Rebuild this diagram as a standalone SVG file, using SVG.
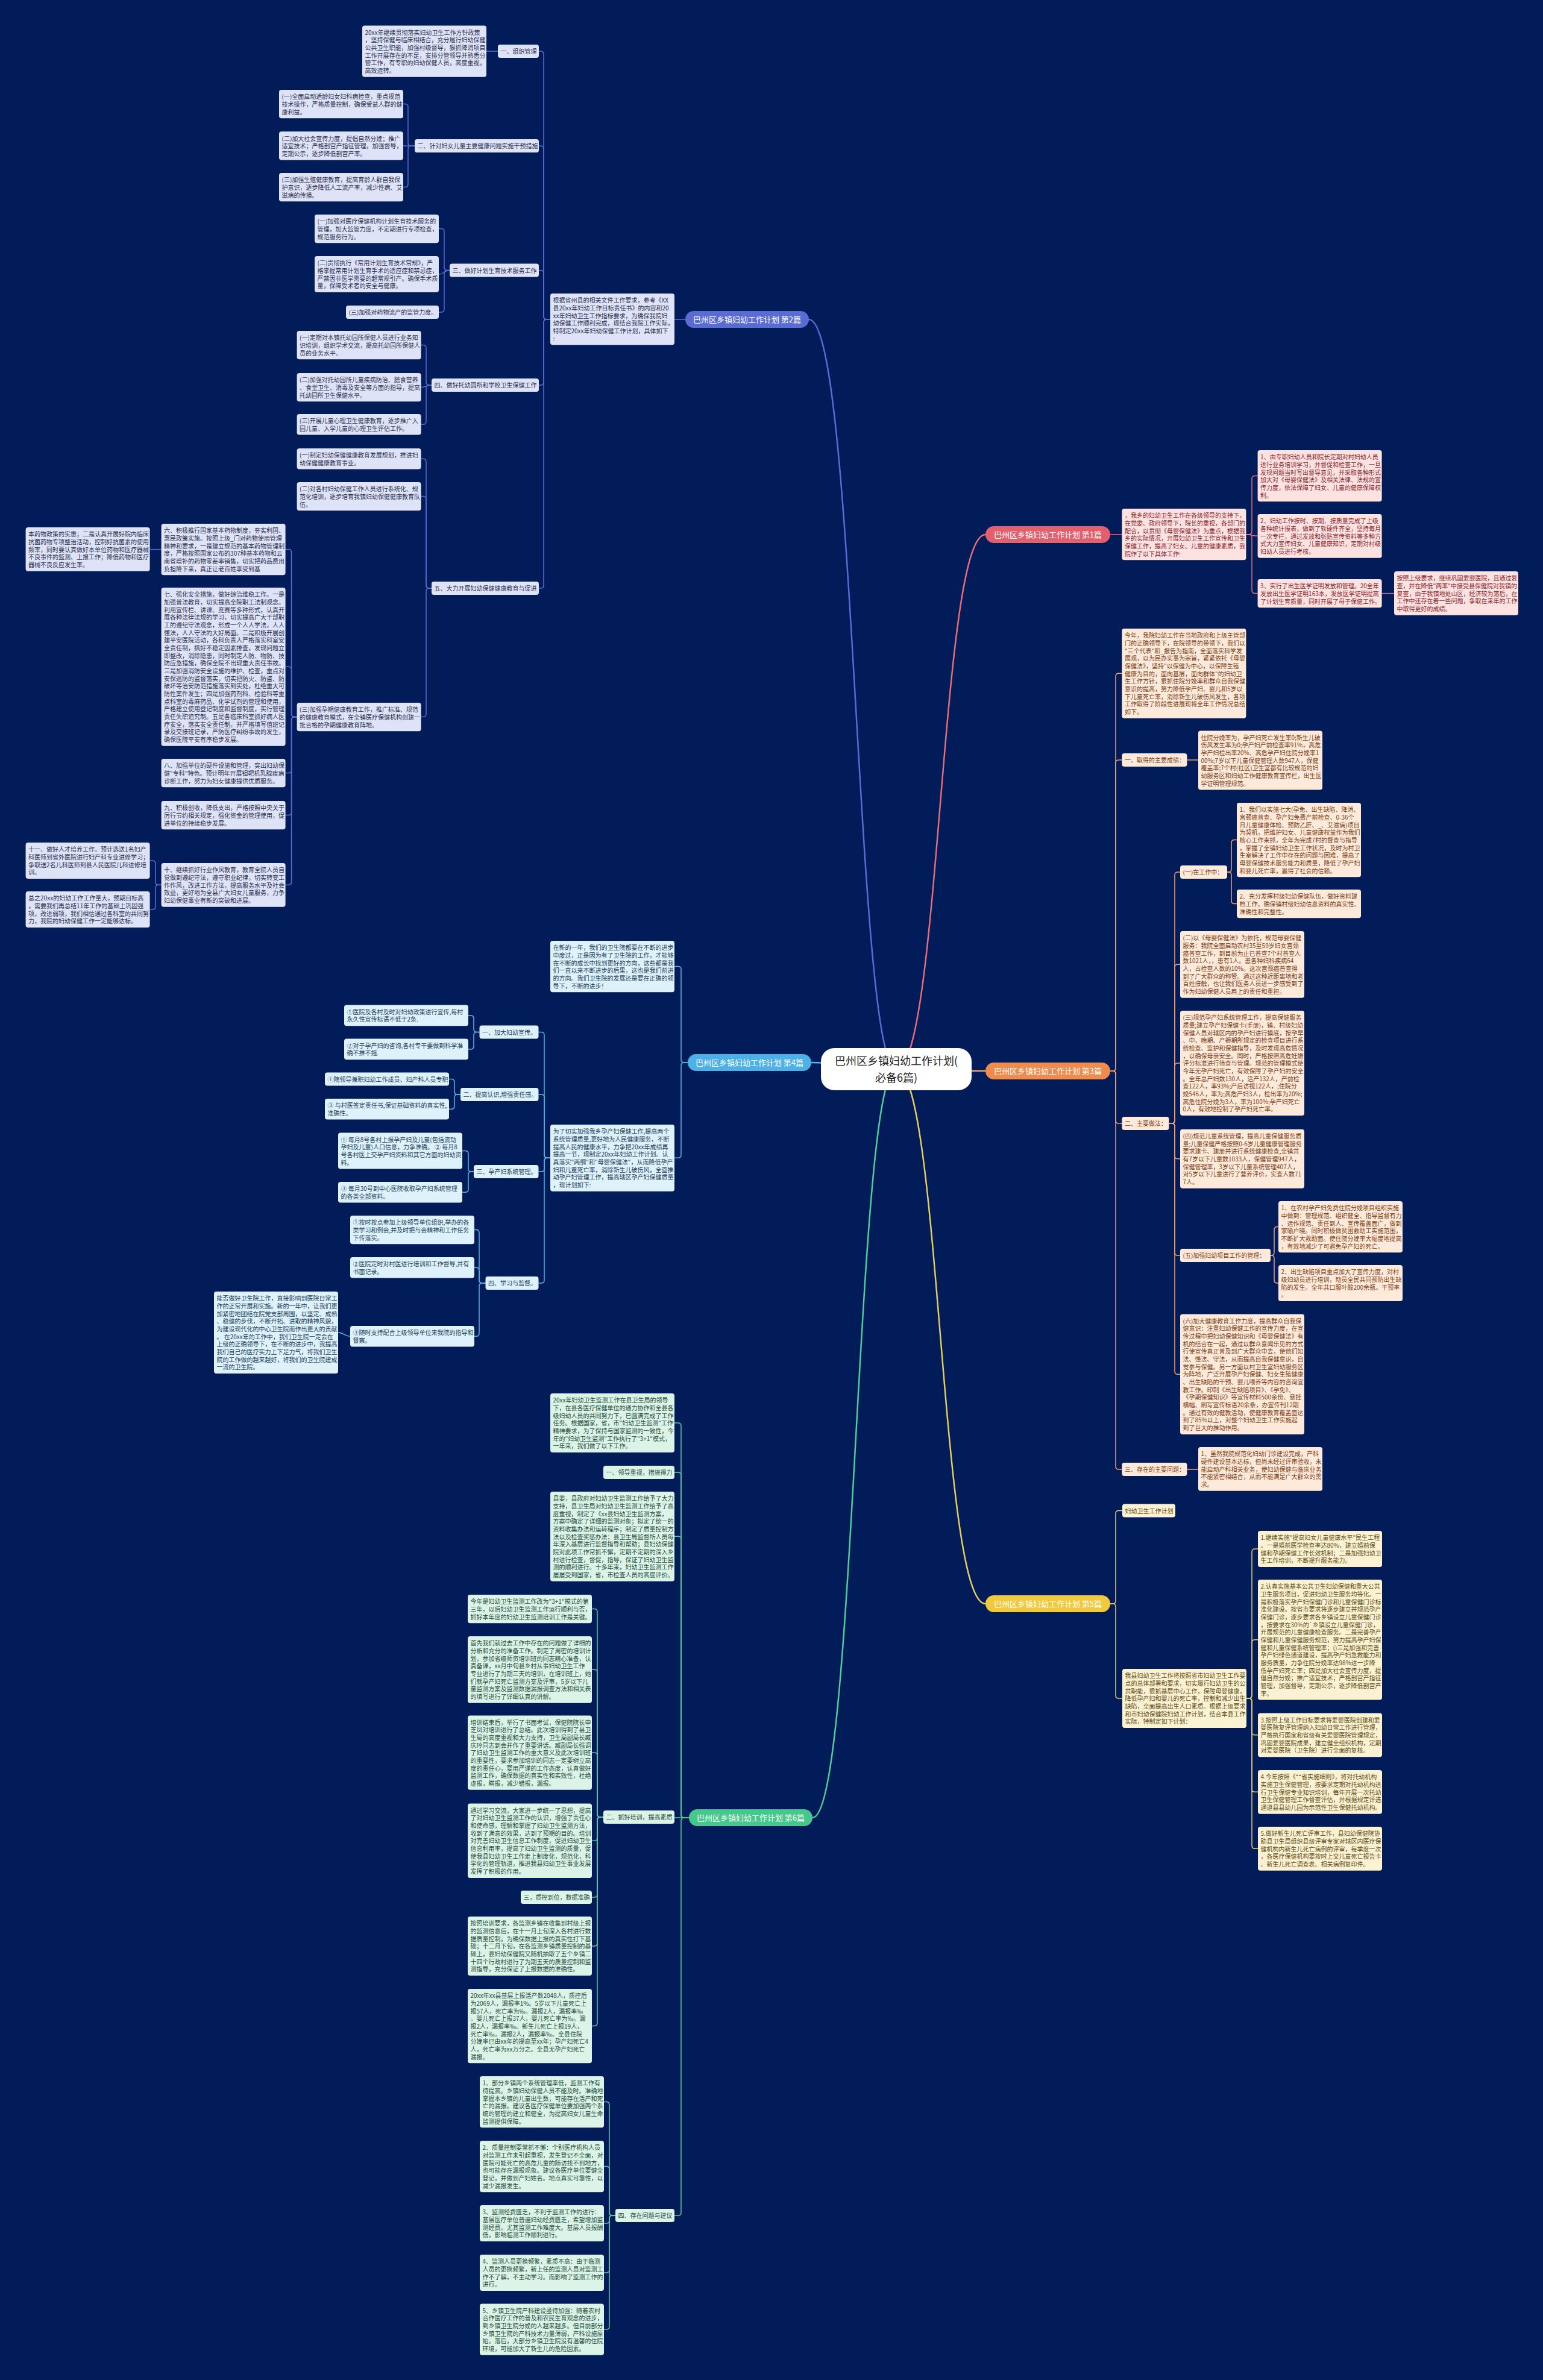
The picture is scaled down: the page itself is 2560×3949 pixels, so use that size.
<svg xmlns="http://www.w3.org/2000/svg" width="2560" height="3949" viewBox="0 0 2560 3949">
<style>
text{font-family:"Noto Sans CJK SC","Noto Sans",sans-serif;font-size:10px}
.c2 rect{fill:#dfe3f7}.c2 text{fill:#2b3150}
.c4 rect{fill:#def2fb}.c4 text{fill:#1c3d5a}
.c6 rect{fill:#dcf3e8}.c6 text{fill:#1f4d3c}
.c1 rect{fill:#fde2e2}.c1 text{fill:#8a1f2a}
.c3 rect{fill:#fdeadb}.c3 text{fill:#7c3d12}
.c5 rect{fill:#fbf2d3}.c5 text{fill:#5e4c12}
.pill text{font-size:13px;fill:#fff;text-anchor:middle}
#connectors path{fill:none;stroke-width:1.5}
#connectors .m{stroke-width:2.5}
.k2{stroke:#5b6bd4}.k4{stroke:#56b6ea}.k6{stroke:#4ccf9a}.k1{stroke:#e56e7c}.k3{stroke:#f0a172}.k5{stroke:#e6cd62}
</style>
<rect width="2560" height="3949" fill="#021c59"/>
<g id="connectors">
<g class="k2">
<path class="m" d="M1342 530C1420 530 1420 1774 1487 1774"/>
<path d="M1137 530H1119"/>
<path d="M913 530H907Q902 530 902 525V90Q902 85 897 85H894"/>
<path d="M913 530H907Q902 530 902 525V247Q902 242 897 242H894"/>
<path d="M913 530H907Q902 530 902 525V453.5Q902 448.5 897 448.5H894"/>
<path d="M913 530H907Q902 530 902 535V634Q902 639 897 639H894"/>
<path d="M913 530H907Q902 530 902 535V971Q902 976 897 976H894"/>
<path d="M826 85H807"/>
<path d="M688 242H682Q677 242 677 237V177.6Q677 172.6 672 172.6H669"/>
<path d="M688 242H669"/>
<path d="M688 242H682Q677 242 677 247V305.6Q677 310.6 672 310.6H669"/>
<path d="M746 448.5H742Q737 448.5 737 443.5V384.6Q737 379.6 732 379.6H728"/>
<path d="M746 448.5C737 448.5 737 455 728 455"/>
<path d="M746 448.5H742Q737 448.5 737 453.5V513Q737 518 732 518H728"/>
<path d="M716 639H712Q707 639 707 634V577.6Q707 572.6 702 572.6H698.6"/>
<path d="M716 639C707 639 707 642.6 698.6 642.6"/>
<path d="M716 639H712Q707 639 707 644V699.3Q707 704.3 702 704.3H698.6"/>
<path d="M716 976H712Q707 976 707 971V766.3Q707 761.3 702 761.3H698.6"/>
<path d="M716 976H712Q707 976 707 971V828.6Q707 823.6 702 823.6H698.6"/>
<path d="M716 976H712Q707 976 707 981V1184.6Q707 1189.6 702 1189.6H698.6"/>
<path d="M492.6 1189.6H488.6Q483.6 1189.6 483.6 1184.6V916.6Q483.6 911.6 478.6 911.6H473.6"/>
<path d="M492.6 1189.6H488.6Q483.6 1189.6 483.6 1184.6V1111.3Q483.6 1106.3 478.6 1106.3H473.6"/>
<path d="M492.6 1189.6H488.6Q483.6 1189.6 483.6 1194.6V1277.6Q483.6 1282.6 478.6 1282.6H473.6"/>
<path d="M492.6 1189.6H488.6Q483.6 1189.6 483.6 1194.6V1347.6Q483.6 1352.6 478.6 1352.6H473.6"/>
<path d="M492.6 1189.6H488.6Q483.6 1189.6 483.6 1194.6V1463.3Q483.6 1468.3 478.6 1468.3H473.6"/>
<path d="M267.6 911.6H248.6"/>
<path d="M267.6 1468.3H263Q258 1468.3 258 1463.3V1433Q258 1428 253 1428H248.6"/>
<path d="M267.6 1468.3H263Q258 1468.3 258 1473.3V1504Q258 1509 253 1509H248.6"/>
</g>
<g class="k4">
<path class="m" d="M1346 1763C1420 1763 1420 1774 1487 1774"/>
<path d="M1141 1763H1135Q1130 1763 1130 1758V1608.6Q1130 1603.6 1125 1603.6H1119"/>
<path d="M1141 1763H1135Q1130 1763 1130 1768V1916.3Q1130 1921.3 1125 1921.3H1119"/>
<path d="M913 1921.3H908Q903 1921.3 903 1916.3V1717.6Q903 1712.6 898 1712.6H893.5"/>
<path d="M913 1921.3H908Q903 1921.3 903 1916.3V1821Q903 1816 898 1816H893.5"/>
<path d="M913 1921.3H908Q903 1921.3 903 1926.3V1939Q903 1944 898 1944H893.5"/>
<path d="M913 1921.3H908Q903 1921.3 903 1926.3V2124Q903 2129 898 2129H893.5"/>
<path d="M795.5 1712.6H791Q786 1712.6 786 1707.6V1689.9Q786 1684.9 781 1684.9H777"/>
<path d="M795.5 1712.6H791Q786 1712.6 786 1717.6V1735.9Q786 1740.9 781 1740.9H777"/>
<path d="M764 1816H759Q754 1816 754 1811V1795.6Q754 1790.6 749 1790.6H745"/>
<path d="M764 1816H759Q754 1816 754 1821V1835.3Q754 1840.3 749 1840.3H745"/>
<path d="M786 1944H782Q777 1944 777 1939V1914.6Q777 1909.6 772 1909.6H767"/>
<path d="M786 1944H782Q777 1944 777 1949V1973.3Q777 1978.3 772 1978.3H767"/>
<path d="M805.5 2129H800Q795 2129 795 2124V2045.6Q795 2040.6 790 2040.6H787"/>
<path d="M805.5 2129H800Q795 2129 795 2124V2108.3Q795 2103.3 790 2103.3H787"/>
<path d="M805.5 2129H800Q795 2129 795 2134V2212.3Q795 2217.3 790 2217.3H787"/>
<path d="M581 2217.3C571 2217.3 571 2211 561 2211"/>
</g>
<g class="k6">
<path class="m" d="M1348 3016C1420 3016 1420 1774 1487 1774"/>
<path d="M1143 3016H1135Q1130 3016 1130 3011V2366Q1130 2361 1125 2361H1119"/>
<path d="M1143 3016H1135Q1130 3016 1130 3011V2448Q1130 2443 1125 2443H1119"/>
<path d="M1143 3016H1135Q1130 3016 1130 3011V2554.3Q1130 2549.3 1125 2549.3H1119"/>
<path d="M1143 3016H1119"/>
<path d="M1143 3016H1135Q1130 3016 1130 3021V3671Q1130 3676 1125 3676H1119"/>
<path d="M1001 3015H996Q991 3015 991 3010V2674.6Q991 2669.6 986 2669.6H982"/>
<path d="M1001 3015H996Q991 3015 991 3010V2775.3Q991 2770.3 986 2770.3H982"/>
<path d="M1001 3015H996Q991 3015 991 3010V2913.1Q991 2908.1 986 2908.1H982"/>
<path d="M1001 3015H996Q991 3015 991 3020V3049.2Q991 3054.2 986 3054.2H982"/>
<path d="M1001 3015H996Q991 3015 991 3020V3143Q991 3148 986 3148H982"/>
<path d="M1001 3015H996Q991 3015 991 3020V3224Q991 3229 986 3229H982"/>
<path d="M1001 3015H996Q991 3015 991 3020V3356.6Q991 3361.6 986 3361.6H982"/>
<path d="M1021 3676H1016Q1011 3676 1011 3671V3492.6Q1011 3487.6 1006 3487.6H1002"/>
<path d="M1021 3676H1016Q1011 3676 1011 3671V3599.6Q1011 3594.6 1006 3594.6H1002"/>
<path d="M1021 3676H1016Q1011 3676 1011 3681V3684Q1011 3689 1006 3689H1002"/>
<path d="M1021 3676H1016Q1011 3676 1011 3681V3766Q1011 3771 1006 3771H1002"/>
<path d="M1021 3676H1016Q1011 3676 1011 3681V3860.1Q1011 3865.1 1006 3865.1H1002"/>
</g>
<g class="k1">
<path class="m" d="M1487 1774C1560 1774 1560 887 1635 887"/>
<path d="M1840 887H1861.4"/>
<path d="M2067.4 886.7H2072Q2077 886.7 2077 881.7V794.6Q2077 789.6 2082 789.6H2086.6"/>
<path d="M2067.4 886.7C2077 886.7 2077 889.3 2086.6 889.3"/>
<path d="M2067.4 886.7H2072Q2077 886.7 2077 891.7V979.6Q2077 984.6 2082 984.6H2086.6"/>
<path d="M2292.6 984.6H2313"/>
</g>
<g class="k3">
<path class="m" d="M1487 1774C1560 1774 1560 1777 1635 1777"/>
<path d="M1840 1777H1846Q1851 1777 1851 1772V1122.3Q1851 1117.3 1856 1117.3H1861.4"/>
<path d="M1840 1777H1846Q1851 1777 1851 1772V1266Q1851 1261 1856 1261H1861.4"/>
<path d="M1840 1777H1846Q1851 1777 1851 1782V1859Q1851 1864 1856 1864H1861.4"/>
<path d="M1840 1777H1846Q1851 1777 1851 1782V2433Q1851 2438 1856 2438H1861.4"/>
<path d="M1969.4 1261H1988"/>
<path d="M1939.4 1864H1944Q1949 1864 1949 1859V1452Q1949 1447 1954 1447H1958"/>
<path d="M1939.4 1864H1944Q1949 1864 1949 1859V1605.3Q1949 1600.3 1954 1600.3H1958"/>
<path d="M1939.4 1864H1944Q1949 1864 1949 1859V1769Q1949 1764 1954 1764H1958"/>
<path d="M1939.4 1864H1944Q1949 1864 1949 1869V1917.7Q1949 1922.7 1954 1922.7H1958"/>
<path d="M1939.4 1864H1944Q1949 1864 1949 1869V2078Q1949 2083 1954 2083H1958"/>
<path d="M1939.4 1864H1944Q1949 1864 1949 1869V2275.2Q1949 2280.2 1954 2280.2H1958"/>
<path d="M2036 1447H2038Q2043 1447 2043 1442V1398.6Q2043 1393.6 2048 1393.6H2052"/>
<path d="M2036 1447H2038Q2043 1447 2043 1452V1494.6Q2043 1499.6 2048 1499.6H2052"/>
<path d="M2108 2083H2109Q2114 2083 2114 2078V2040.6Q2114 2035.6 2119 2035.6H2121"/>
<path d="M2108 2083H2109Q2114 2083 2114 2088V2124Q2114 2129 2119 2129H2121"/>
<path d="M1969.4 2438H1988"/>
</g>
<g class="k5">
<path class="m" d="M1487 1774C1560 1774 1560 2661 1635 2661"/>
<path d="M1840 2661H1846Q1851 2661 1851 2656V2511.5Q1851 2506.5 1856 2506.5H1862"/>
<path d="M1840 2661H1846Q1851 2661 1851 2666V2813Q1851 2818 1856 2818H1862"/>
<path d="M2068 2818H2072Q2077 2818 2077 2813V2575Q2077 2570 2082 2570H2087"/>
<path d="M2068 2818H2072Q2077 2818 2077 2813V2725.7Q2077 2720.7 2082 2720.7H2087"/>
<path d="M2068 2818H2072Q2077 2818 2077 2823V2873.8Q2077 2878.8 2082 2878.8H2087"/>
<path d="M2068 2818H2072Q2077 2818 2077 2823V2968.3Q2077 2973.3 2082 2973.3H2087"/>
<path d="M2068 2818H2072Q2077 2818 2077 2823V3062.3Q2077 3067.3 2082 3067.3H2087"/>
</g>
</g>

<g id="root"><rect x="1362" y="1739" width="250" height="70" rx="22" fill="#ffffff"/><text x="1487" y="1767" text-anchor="middle" fill="#222" style="font-size:18px">巴州区乡镇妇幼工作计划(<tspan x="1487" dy="28">必备6篇)</tspan></text></g>

<g id="p2" class="pill"><rect x="1137" y="516" width="205" height="28" rx="14" fill="#5b6bd4"/><text x="1239.5" y="535">巴州区乡镇妇幼工作计划 第2篇</text></g>
<g id="p1" class="pill"><rect x="1635" y="873" width="207" height="28" rx="14" fill="#e35f6d"/><text x="1738.5" y="892">巴州区乡镇妇幼工作计划 第1篇</text></g>
<g id="p4" class="pill"><rect x="1141" y="1749" width="205" height="28" rx="14" fill="#4cb1e6"/><text x="1243.5" y="1768">巴州区乡镇妇幼工作计划 第4篇</text></g>
<g id="p3" class="pill"><rect x="1635" y="1763" width="207" height="28" rx="14" fill="#ef8b4c"/><text x="1738.5" y="1782">巴州区乡镇妇幼工作计划 第3篇</text></g>
<g id="p5" class="pill"><rect x="1635" y="2647" width="207" height="28" rx="14" fill="#f1c93c"/><text x="1738.5" y="2666">巴州区乡镇妇幼工作计划 第5篇</text></g>
<g id="p6" class="pill"><rect x="1143" y="3002" width="205" height="28" rx="14" fill="#45c88c"/><text x="1245.5" y="3021">巴州区乡镇妇幼工作计划 第6篇</text></g>

<g class="c2">
<g id="n2d"><rect x="913" y="487" width="206" height="85.3" rx="4"/><text x="917.5" y="502.2">根据省州县的相关文件工作要求，参考《XX<tspan x="917.5" dy="12.67">县20xx年妇幼工作目标责任书》的内容和20</tspan><tspan x="917.5" dy="12.67">xx年妇幼卫生工作指标要求，为确保我院妇</tspan><tspan x="917.5" dy="12.67">幼保健工作顺利完成，现结合我院工作实际，</tspan><tspan x="917.5" dy="12.67">特制定20xx年妇幼保健工作计划，具体如下</tspan><tspan x="917.5" dy="12.67">:</tspan></text></g>
<g id="n2-1"><rect x="826" y="74" width="68" height="22" rx="4"/><text x="830.5" y="89.2">一、组织管理</text></g>
<g id="n2-1a"><rect x="601" y="42.4" width="206" height="85.3" rx="4"/><text x="605.5" y="57.6">20xx年继续贯彻落实妇幼卫生工作方针政策<tspan x="605.5" dy="12.67">，坚持保健与临床相结合，充分履行妇幼保健</tspan><tspan x="605.5" dy="12.67">公共卫生职能，加强村级督导，狠抓降消项目</tspan><tspan x="605.5" dy="12.67">工作开展存在的不足，安排分管领导并熟悉分</tspan><tspan x="605.5" dy="12.67">管工作，有专职的妇幼保健人员，高度重视，</tspan><tspan x="605.5" dy="12.67">高效运转。</tspan></text></g>
<g id="n2-2"><rect x="688" y="231" width="206" height="22" rx="4"/><text x="692.5" y="246.2">二、针对妇女儿童主要健康问题实施干预措施</text></g>
<g id="n2-2a"><rect x="463" y="149" width="206" height="47.3" rx="4"/><text x="467.5" y="164.2">(一)全面启动适龄妇女妇科病检查，重点规范<tspan x="467.5" dy="12.67">技术操作，严格质量控制，确保受益人群的健</tspan><tspan x="467.5" dy="12.67">康利益。</tspan></text></g>
<g id="n2-2b"><rect x="463" y="218.3" width="206" height="47.3" rx="4"/><text x="467.5" y="233.5">(二)加大社会宣传力度，提倡自然分娩；推广<tspan x="467.5" dy="12.67">适宜技术；严格剖宫产指征管理，加强督导，</tspan><tspan x="467.5" dy="12.67">定期公示，逐步降低剖宫产率。</tspan></text></g>
<g id="n2-2c"><rect x="463" y="287" width="206" height="47.3" rx="4"/><text x="467.5" y="302.2">(三)加强生殖健康教育，提高育龄人群自我保<tspan x="467.5" dy="12.67">护意识，逐步降低人工流产率，减少性病、艾</tspan><tspan x="467.5" dy="12.67">滋病的传播。</tspan></text></g>
<g id="n2-3"><rect x="746" y="437.5" width="148" height="22" rx="4"/><text x="750.5" y="452.7">三、做好计划生育技术服务工作</text></g>
<g id="n2-3a"><rect x="522" y="356" width="206" height="47.3" rx="4"/><text x="526.5" y="371.2">(一)加强对医疗保健机构计划生育技术服务的<tspan x="526.5" dy="12.67">管理，加大监管力度，不定期进行专项检查，</tspan><tspan x="526.5" dy="12.67">规范服务行为。</tspan></text></g>
<g id="n2-3b"><rect x="522" y="425" width="206" height="60" rx="4"/><text x="526.5" y="440.2">(二)贯彻执行《常用计划生育技术常规》，严<tspan x="526.5" dy="12.67">格掌握常用计划生育手术的适应症和禁忌症，</tspan><tspan x="526.5" dy="12.67">严禁因非医学需要的超常规引产。确保手术质</tspan><tspan x="526.5" dy="12.67">量，保障受术者的安全与健康。</tspan></text></g>
<g id="n2-3c"><rect x="574" y="507" width="154" height="22" rx="4"/><text x="578.5" y="522.2">(三)加强对药物流产的监管力度。</text></g>
<g id="n2-4"><rect x="716" y="628" width="178" height="22" rx="4"/><text x="720.5" y="643.2">四、做好托幼园所和学校卫生保健工作</text></g>
<g id="n2-4a"><rect x="492.6" y="549" width="206" height="47.3" rx="4"/><text x="497.1" y="564.2">(一)定期对本镇托幼园所保健人员进行业务知<tspan x="497.1" dy="12.67">识培训，组织学术交流，提高托幼园所保健人</tspan><tspan x="497.1" dy="12.67">员的业务水平。</tspan></text></g>
<g id="n2-4b"><rect x="492.6" y="619" width="206" height="47.3" rx="4"/><text x="497.1" y="634.2">(二)加强对托幼园所儿童疾病防治、膳食营养<tspan x="497.1" dy="12.67">、食堂卫生、消毒及安全等方面的指导，提高</tspan><tspan x="497.1" dy="12.67">托幼园所卫生保健水平。</tspan></text></g>
<g id="n2-4c"><rect x="492.6" y="687" width="206" height="34.6" rx="4"/><text x="497.1" y="702.2">(三)开展儿童心理卫生健康教育，逐步推广入<tspan x="497.1" dy="12.67">园儿童、入学儿童的心理卫生评估工作。</tspan></text></g>
<g id="n2-5"><rect x="716" y="965" width="178" height="22" rx="4"/><text x="720.5" y="980.2">五、大力开展妇幼保健健康教育与促进</text></g>
<g id="n2-5a"><rect x="492.6" y="744" width="206" height="34.6" rx="4"/><text x="497.1" y="759.2">(一)制定妇幼保健健康教育发展规划，推进妇<tspan x="497.1" dy="12.67">幼保健健康教育事业。</tspan></text></g>
<g id="n2-5b"><rect x="492.6" y="800" width="206" height="47.3" rx="4"/><text x="497.1" y="815.2">(二)对各村妇幼保健工作人员进行系统化、规<tspan x="497.1" dy="12.67">范化培训，逐步培育我镇妇幼保健健康教育队</tspan><tspan x="497.1" dy="12.67">伍。</tspan></text></g>
<g id="n2-5c"><rect x="492.6" y="1166" width="206" height="47.3" rx="4"/><text x="497.1" y="1181.2">(三)加强孕期健康教育工作，推广标准、规范<tspan x="497.1" dy="12.67">的健康教育模式，在全镇医疗保健机构创建一</tspan><tspan x="497.1" dy="12.67">批合格的孕期健康教育阵地。</tspan></text></g>
<g id="n2-6"><rect x="267.6" y="869" width="206" height="85.3" rx="4"/><text x="272.1" y="884.2">六、积极推行国家基本药物制度，夯实利国、<tspan x="272.1" dy="12.67">惠民政策实施。按照上级_门对药物使用管理</tspan><tspan x="272.1" dy="12.67">精神和要求，一是建立规范的基本药物管理制</tspan><tspan x="272.1" dy="12.67">度，严格按照国家公布的307种基本药物和云</tspan><tspan x="272.1" dy="12.67">南省增补的药物零差率销售，切实把药品费用</tspan><tspan x="272.1" dy="12.67">负担降下来，真正让老百姓享受到基</tspan></text></g>
<g id="n2-6a"><rect x="42.6" y="875" width="206" height="72.7" rx="4"/><text x="47.1" y="890.2">本药物政策的实惠；二是认真开展好院内临床<tspan x="47.1" dy="12.67">抗菌药物专项整治活动，控制好抗菌素的使用</tspan><tspan x="47.1" dy="12.67">频率，同时要认真做好本单位药物和医疗器械</tspan><tspan x="47.1" dy="12.67">不良事件的监测、上报工作；降低药物和医疗</tspan><tspan x="47.1" dy="12.67">器械不良反应发生率。</tspan></text></g>
<g id="n2-7"><rect x="267.6" y="975" width="206" height="262.7" rx="4"/><text x="272.1" y="990.2">七、强化安全措施，做好综治维稳工作。一是<tspan x="272.1" dy="12.67">加强普法教育，切实提高全院职工法制观念。</tspan><tspan x="272.1" dy="12.67">利用宣传栏、讲课、竞赛等多种形式，认真开</tspan><tspan x="272.1" dy="12.67">展各种法律法规的学习，切实提高广大干部职</tspan><tspan x="272.1" dy="12.67">工的遵纪守法观念，形成一个人人学法，人人</tspan><tspan x="272.1" dy="12.67">懂法，人人守法的大好局面。二是积极开展创</tspan><tspan x="272.1" dy="12.67">建平安医院活动，各科负责人严格落实科室安</tspan><tspan x="272.1" dy="12.67">全责任制，搞好不稳定因素排查，发现问题立</tspan><tspan x="272.1" dy="12.67">即整改，消除隐患，同时制定人防、物防、技</tspan><tspan x="272.1" dy="12.67">防应急措施，确保全院不出现重大责任事故。</tspan><tspan x="272.1" dy="12.67">三是加强消防安全设施的维护、检查，重点对</tspan><tspan x="272.1" dy="12.67">安保巡防的监督落实，切实把防火、防盗、防</tspan><tspan x="272.1" dy="12.67">破坏等治安防范措施落实到实处，杜绝重大可</tspan><tspan x="272.1" dy="12.67">防性案件发生；四是加强药剂科、检验科等重</tspan><tspan x="272.1" dy="12.67">点科室的毒麻药品、化学试剂的管理和使用，</tspan><tspan x="272.1" dy="12.67">严格建立使用登记制度和监督制度，实行管理</tspan><tspan x="272.1" dy="12.67">责任失职追究制。五是各临床科室抓好病人医</tspan><tspan x="272.1" dy="12.67">疗安全，落实安全责任制，并严格填写值班记</tspan><tspan x="272.1" dy="12.67">录及交接班记录，严防医疗纠纷事故的发生，</tspan><tspan x="272.1" dy="12.67">确保医院平安有序稳步发展。</tspan></text></g>
<g id="n2-8"><rect x="267.6" y="1259" width="206" height="47.3" rx="4"/><text x="272.1" y="1274.2">八、加强单位的硬件设施和管理，突出妇幼保<tspan x="272.1" dy="12.67">健"专科"特色。预计明年开展钼靶机乳腺疾病</tspan><tspan x="272.1" dy="12.67">诊断工作，努力为妇女健康提供优质服务。</tspan></text></g>
<g id="n2-9"><rect x="267.6" y="1329" width="206" height="47.3" rx="4"/><text x="272.1" y="1344.2">九、积极创收，降低支出，严格按照中央关于<tspan x="272.1" dy="12.67">厉行节约相关规定，强化资金的管理使用，促</tspan><tspan x="272.1" dy="12.67">进单位的持续稳步发展。</tspan></text></g>
<g id="n2-10"><rect x="267.6" y="1432" width="206" height="72.7" rx="4"/><text x="272.1" y="1447.2">十、继续抓好行业作风教育，教育全院人员自<tspan x="272.1" dy="12.67">觉做到遵纪守法，遵守职业纪律，切实转变工</tspan><tspan x="272.1" dy="12.67">作作风，改进工作方法，提高服务水平及社会</tspan><tspan x="272.1" dy="12.67">效益，更好地为全县广大妇女儿童服务，力争</tspan><tspan x="272.1" dy="12.67">妇幼保健事业有新的突破和进展。</tspan></text></g>
<g id="n2-11"><rect x="42.6" y="1398" width="206" height="60" rx="4"/><text x="47.1" y="1413.2">十一、做好人才培养工作。预计选送1名妇产<tspan x="47.1" dy="12.67">科医师到省外医院进行妇产科专业进修学习；</tspan><tspan x="47.1" dy="12.67">争取送2名儿科医师到县人民医院儿科进修培</tspan><tspan x="47.1" dy="12.67">训。</tspan></text></g>
<g id="n2-12"><rect x="42.6" y="1479" width="206" height="60" rx="4"/><text x="47.1" y="1494.2">总之20xx的妇幼工作工作量大，预期目标高<tspan x="47.1" dy="12.67">，需要我们再总结11年工作的基础上巩固强</tspan><tspan x="47.1" dy="12.67">项，改进弱项，我们相信通过各科室的共同努</tspan><tspan x="47.1" dy="12.67">力，我院的妇幼保健工作一定能够达标。</tspan></text></g>
</g>

<g class="c4">
<g id="n4d1"><rect x="913" y="1561" width="206" height="85.3" rx="4"/><text x="917.5" y="1576.2">在新的一年，我们的卫生院都要在不断的进步<tspan x="917.5" dy="12.67">中度过，正是因为有了卫生院的工作，才能够</tspan><tspan x="917.5" dy="12.67">在不断的成长中找到更好的方向，这些都是我</tspan><tspan x="917.5" dy="12.67">们一直以来不断进步的后果，这也是我们前进</tspan><tspan x="917.5" dy="12.67">的方向。我们卫生院的发展还是要在正确的领</tspan><tspan x="917.5" dy="12.67">导下，不断的进步！</tspan></text></g>
<g id="n4d2"><rect x="913" y="1866" width="206" height="110.7" rx="4"/><text x="917.5" y="1881.2">为了切实加强我乡孕产妇保健工作,提高两个<tspan x="917.5" dy="12.67">系统管理质量,更好地为人民健康服务，不断</tspan><tspan x="917.5" dy="12.67">提高人民的健康水平，力争把20xx年成绩再</tspan><tspan x="917.5" dy="12.67">提高一节，现制定20xx年妇幼工作计划。认</tspan><tspan x="917.5" dy="12.67">真落实"两纲"和"母婴保健法"，从而降低孕产</tspan><tspan x="917.5" dy="12.67">妇和儿童死亡率，消除新生儿破伤风，全面推</tspan><tspan x="917.5" dy="12.67">动孕产妇管理工作，提高辖区孕产妇保健质量</tspan><tspan x="917.5" dy="12.67">，现计划如下:</tspan></text></g>
<g id="n4-1"><rect x="795.5" y="1701.6" width="98" height="22" rx="4"/><text x="800" y="1716.8">一、加大妇幼宣传。</text></g>
<g id="n4-1a"><rect x="571" y="1667.6" width="206" height="34.6" rx="4"/><text x="575.5" y="1682.8">①医院及各村及时对妇幼政策进行宣传,每村<tspan x="575.5" dy="12.67">永久性宣传标语不低于2条.</tspan></text></g>
<g id="n4-1b"><rect x="571" y="1723.6" width="206" height="34.6" rx="4"/><text x="575.5" y="1738.8">②对于孕产妇的咨询,各村专干要做到科学准<tspan x="575.5" dy="12.67">确不推不拖.</tspan></text></g>
<g id="n4-2"><rect x="764" y="1805" width="129.5" height="22" rx="4"/><text x="768.5" y="1820.2">二、提高认识,增强责任感。</text></g>
<g id="n4-2a"><rect x="539" y="1779.6" width="206" height="22" rx="4"/><text x="543.5" y="1794.8">①院领导兼职妇幼工作成员、妇产科人员专职</text></g>
<g id="n4-2b"><rect x="539" y="1823" width="206" height="34.6" rx="4"/><text x="543.5" y="1838.2">③ 与村医签定责任书,保证基础资料的真实性,<tspan x="543.5" dy="12.67">准确性。</tspan></text></g>
<g id="n4-3"><rect x="786" y="1933" width="107.5" height="22" rx="4"/><text x="790.5" y="1948.2">三、孕产妇系统管理。</text></g>
<g id="n4-3a"><rect x="561" y="1879.6" width="206" height="60" rx="4"/><text x="565.5" y="1894.8">① 每月8号各村上报孕产妇及儿童(包括流动<tspan x="565.5" dy="12.67">孕妇及儿童)人口信息，力争准确。 ② 每月8</tspan><tspan x="565.5" dy="12.67">号各村医上交孕产妇资料和其它方面的妇幼资</tspan><tspan x="565.5" dy="12.67">料。</tspan></text></g>
<g id="n4-3b"><rect x="561" y="1961" width="206" height="34.6" rx="4"/><text x="565.5" y="1976.2">③ 每月30号到中心医院收取孕产妇系统管理<tspan x="565.5" dy="12.67">的各类全部资料。</tspan></text></g>
<g id="n4-4"><rect x="805.5" y="2118" width="88" height="22" rx="4"/><text x="810" y="2133.2">四、学习与监督。</text></g>
<g id="n4-4a"><rect x="581" y="2017" width="206" height="47.3" rx="4"/><text x="585.5" y="2032.2">①按时按点参加上级领导单位组织,举办的各<tspan x="585.5" dy="12.67">类学习和例会,并及时把与会精神和工作任务</tspan><tspan x="585.5" dy="12.67">下传落实。</tspan></text></g>
<g id="n4-4b"><rect x="581" y="2086" width="206" height="34.6" rx="4"/><text x="585.5" y="2101.2">②医院定时对村医进行培训和工作督导,并有<tspan x="585.5" dy="12.67">书面记录。</tspan></text></g>
<g id="n4-4c"><rect x="581" y="2200" width="206" height="34.6" rx="4"/><text x="585.5" y="2215.2">③随时支持配合上级领导单位来我院的指导和<tspan x="585.5" dy="12.67">督察。</tspan></text></g>
<g id="n4-4d"><rect x="355" y="2143" width="206" height="136" rx="4"/><text x="359.5" y="2158.2">能否做好卫生院工作，直接影响到医院日常工<tspan x="359.5" dy="12.67">作的正常开展和实施。新的一年中，让我们更</tspan><tspan x="359.5" dy="12.67">加紧密地团结在院党支部周围，以坚定、成熟</tspan><tspan x="359.5" dy="12.67">、稳健的步伐，不断开拓、进取的精神风貌，</tspan><tspan x="359.5" dy="12.67">为建设现代化的中心卫生院而作出更大的贡献</tspan><tspan x="359.5" dy="12.67">。 在20xx年的工作中，我们卫生院一定会在</tspan><tspan x="359.5" dy="12.67">上级的正确领导下，在不断的进步中，我提高</tspan><tspan x="359.5" dy="12.67">我们自己的医疗实力上下足力气，将我们卫生</tspan><tspan x="359.5" dy="12.67">院的工作做的越来越好，将我们的卫生院建成</tspan><tspan x="359.5" dy="12.67">一流的卫生院。</tspan></text></g>
</g>

<g class="c6">
<g id="n6d"><rect x="913" y="2312" width="206" height="98" rx="4"/><text x="917.5" y="2327.2">20xx年妇幼卫生监测工作在县卫生局的领导<tspan x="917.5" dy="12.67">下，在县各医疗保健单位的通力协作和全县各</tspan><tspan x="917.5" dy="12.67">级妇幼人员的共同努力下，已圆满完成了工作</tspan><tspan x="917.5" dy="12.67">任务。根据国家，省，市"妇幼卫生监测"工作</tspan><tspan x="917.5" dy="12.67">精神要求，为了保持与国家监测的一致性，今</tspan><tspan x="917.5" dy="12.67">年的"妇幼卫生监测"工作执行了"3+1"模式，</tspan><tspan x="917.5" dy="12.67">一年来，我们做了以下工作。</tspan></text></g>
<g id="n6-1"><rect x="1001" y="2432" width="118" height="22" rx="4"/><text x="1005.5" y="2447.2">一、领导重视，措施得力</text></g>
<g id="n6-1a"><rect x="913" y="2475" width="206" height="148.7" rx="4"/><text x="917.5" y="2490.2">县委，县政府对妇幼卫生监测工作给予了大力<tspan x="917.5" dy="12.67">支持，县卫生局对妇幼卫生监测工作给予了高</tspan><tspan x="917.5" dy="12.67">度重视，制定了《xx县妇幼卫生监测方案，</tspan><tspan x="917.5" dy="12.67">方案中确定了详细的监测对象；拟定了统一的</tspan><tspan x="917.5" dy="12.67">资料收集办法和运转程序；制定了质量控制方</tspan><tspan x="917.5" dy="12.67">法以及检查奖惩办法；县卫生局监督所人员每</tspan><tspan x="917.5" dy="12.67">年深入基层进行监督指导和帮助；县妇幼保健</tspan><tspan x="917.5" dy="12.67">院对此项工作常抓不懈，定期不定期的深入乡</tspan><tspan x="917.5" dy="12.67">村进行检查，督促，指导，保证了妇幼卫生监</tspan><tspan x="917.5" dy="12.67">测的顺利进行。十多年来，妇幼卫生监测工作</tspan><tspan x="917.5" dy="12.67">屡屡受到国家，省，市检查人员的高度评价。</tspan></text></g>
<g id="n6-2"><rect x="1001" y="3004" width="118" height="22" rx="4"/><text x="1005.5" y="3019.2">二、抓好培训，提高素质</text></g>
<g id="n6-2a"><rect x="776" y="2646" width="206" height="47.3" rx="4"/><text x="780.5" y="2661.2">今年是妇幼卫生监测工作改为"3+1"模式的第<tspan x="780.5" dy="12.67">三年，以后妇幼卫生监测工作运行顺利与否，</tspan><tspan x="780.5" dy="12.67">抓好本年度的妇幼卫生监测培训工作是关键。</tspan></text></g>
<g id="n6-2b"><rect x="776" y="2715" width="206" height="110.7" rx="4"/><text x="780.5" y="2730.2">首先我们就过去工作中存在的问题做了详细的<tspan x="780.5" dy="12.67">分析和充分的准备工作。制定了周密的培训计</tspan><tspan x="780.5" dy="12.67">划，参加省级师资培训班的同志精心准备，认</tspan><tspan x="780.5" dy="12.67">真备课，xx月中旬县乡村从事妇幼卫生工作</tspan><tspan x="780.5" dy="12.67">专业进行了为期三天的培训，在培训班上，她</tspan><tspan x="780.5" dy="12.67">们就孕产妇死亡监测方案及评审，5岁以下儿</tspan><tspan x="780.5" dy="12.67">童监测方案及监测数据漏报调查方法和相关表</tspan><tspan x="780.5" dy="12.67">的填写进行了详细认真的讲解。</tspan></text></g>
<g id="n6-2c"><rect x="776" y="2846.5" width="206" height="123.3" rx="4"/><text x="780.5" y="2861.7">培训结束后，举行了书面考试，保健院院长申<tspan x="780.5" dy="12.67">芝凤对培训进行了总结。此次培训得到了县卫</tspan><tspan x="780.5" dy="12.67">生局的高度重视和大力支持，卫生局副局长臧</tspan><tspan x="780.5" dy="12.67">庆玲同志到会并作了重要讲话。臧副局长强调</tspan><tspan x="780.5" dy="12.67">了妇幼卫生监测工作的重大意义及此次培训班</tspan><tspan x="780.5" dy="12.67">的重要性，要求参加培训的同志一定要树立高</tspan><tspan x="780.5" dy="12.67">度的责任心，要用严谨的工作态度，认真做好</tspan><tspan x="780.5" dy="12.67">监测工作，确保数据的真实性和实效性，杜绝</tspan><tspan x="780.5" dy="12.67">虚报，瞒报，减少错报，漏报。</tspan></text></g>
<g id="n6-2d"><rect x="776" y="2992.6" width="206" height="123.3" rx="4"/><text x="780.5" y="3007.8">通过学习交流，大家进一步统一了思想，提高<tspan x="780.5" dy="12.67">了对妇幼卫生监测工作的认识，增强了责任心</tspan><tspan x="780.5" dy="12.67">和使命感，理解和掌握了妇幼卫生监测方法，</tspan><tspan x="780.5" dy="12.67">收到了满意的效果，达到了预期的目的。培训</tspan><tspan x="780.5" dy="12.67">对完善妇幼卫生信息工作制度，促进妇幼卫生</tspan><tspan x="780.5" dy="12.67">信息利用率，提高了妇幼卫生监测的质量，促</tspan><tspan x="780.5" dy="12.67">使我县妇幼卫生工作走上制度化，规范化，科</tspan><tspan x="780.5" dy="12.67">学化的管理轨道，推进我县妇幼卫生事业发展</tspan><tspan x="780.5" dy="12.67">发挥了积极的作用。</tspan></text></g>
<g id="n6-3"><rect x="864" y="3137" width="118" height="22" rx="4"/><text x="868.5" y="3152.2">三，质控到位，数据准确</text></g>
<g id="n6-3a"><rect x="776" y="3180" width="206" height="98" rx="4"/><text x="780.5" y="3195.2">按照培训要求，各监测乡镇在收集到村级上报<tspan x="780.5" dy="12.67">的监测信息后，在十一月上旬深入各村进行数</tspan><tspan x="780.5" dy="12.67">据质量控制，为确保数据上报的真实性打下基</tspan><tspan x="780.5" dy="12.67">础；十二月下旬，在各监测乡镇质量控制的基</tspan><tspan x="780.5" dy="12.67">础上，县妇幼保健院又随机抽取了五个乡镇二</tspan><tspan x="780.5" dy="12.67">十四个行政村进行了为期五天的质量控制和监</tspan><tspan x="780.5" dy="12.67">测指导，充分保证了上报数据的准确性。</tspan></text></g>
<g id="n6-3b"><rect x="776" y="3300" width="206" height="123.3" rx="4"/><text x="780.5" y="3315.2">20xx年xx县基层上报活产数2048人，质控后<tspan x="780.5" dy="12.67">为2069人，漏报率1%。5岁以下儿童死亡上</tspan><tspan x="780.5" dy="12.67">报57人，死亡率为‰。漏报2人，漏报率‰</tspan><tspan x="780.5" dy="12.67">。婴儿死亡上报37人，婴儿死亡率为‰。漏</tspan><tspan x="780.5" dy="12.67">报2人，漏报率‰。新生儿死亡上报19人，</tspan><tspan x="780.5" dy="12.67">死亡率‰。漏报2人，漏报率‰。全县住院</tspan><tspan x="780.5" dy="12.67">分娩率已由xx年的提高至xx年；孕产妇死亡4</tspan><tspan x="780.5" dy="12.67">人，死亡率为xx万分之。全县无孕产妇死亡</tspan><tspan x="780.5" dy="12.67">漏报。</tspan></text></g>
<g id="n6-4"><rect x="1021" y="3665" width="98" height="22" rx="4"/><text x="1025.5" y="3680.2">四、存在问题与建议</text></g>
<g id="n6-4a"><rect x="796" y="3445" width="206" height="85.3" rx="4"/><text x="800.5" y="3460.2">1、部分乡镇两个系统管理率低，监测工作有<tspan x="800.5" dy="12.67">待提高。乡镇妇幼保健人员不能及时。准确地</tspan><tspan x="800.5" dy="12.67">掌握本乡镇的儿童出生数，可能存在活产和死</tspan><tspan x="800.5" dy="12.67">亡的漏报。建议各医疗保健单位要加强两个系</tspan><tspan x="800.5" dy="12.67">统的管理的建立和健全，为提高妇女儿童生命</tspan><tspan x="800.5" dy="12.67">监测提供保障。</tspan></text></g>
<g id="n6-4b"><rect x="796" y="3552" width="206" height="85.3" rx="4"/><text x="800.5" y="3567.2">2、质量控制要常抓不懈：个别医疗机构人员<tspan x="800.5" dy="12.67">对监测工作未引起重视，发生登记不全面，对</tspan><tspan x="800.5" dy="12.67">医院可能死亡的高危儿童的随访找不到地方，</tspan><tspan x="800.5" dy="12.67">也可能存在漏报现象。建议各医疗单位要健全</tspan><tspan x="800.5" dy="12.67">登记，并做到产妇姓名。地点真实可靠性，以</tspan><tspan x="800.5" dy="12.67">减少漏报发生。</tspan></text></g>
<g id="n6-4c"><rect x="796" y="3659" width="206" height="60" rx="4"/><text x="800.5" y="3674.2">3、监测经费匮乏，不利于监测工作的进行：<tspan x="800.5" dy="12.67">基层医疗单位普遍妇幼经费匮乏，希望增加监</tspan><tspan x="800.5" dy="12.67">测经费。尤其监测工作难度大。基层人员报酬</tspan><tspan x="800.5" dy="12.67">低，影响临测工作顺利进行。</tspan></text></g>
<g id="n6-4d"><rect x="796" y="3741" width="206" height="60" rx="4"/><text x="800.5" y="3756.2">4、监测人员更换频繁，素质不高：由于临测<tspan x="800.5" dy="12.67">人员的更换频繁，新上任的监测人员对监测工</tspan><tspan x="800.5" dy="12.67">作不了解，不主动学习。而影响了监测工作的</tspan><tspan x="800.5" dy="12.67">进行。</tspan></text></g>
<g id="n6-4e"><rect x="796" y="3822.5" width="206" height="85.3" rx="4"/><text x="800.5" y="3837.7">5、乡镇卫生院产科建设亟待加强：随着农村<tspan x="800.5" dy="12.67">合作医疗工作的普及和农民生育观念的进步，</tspan><tspan x="800.5" dy="12.67">到乡镇卫生院分娩的人越来越多。但目前部分</tspan><tspan x="800.5" dy="12.67">乡镇卫生院的产科技术力量薄弱，产科设施原</tspan><tspan x="800.5" dy="12.67">始。落后，大部分乡镇卫生院没有温馨的住院</tspan><tspan x="800.5" dy="12.67">环境，可能加大了新生儿的危险因素。</tspan></text></g>
</g>

<g class="c1">
<g id="n1d"><rect x="1861.4" y="844" width="206" height="85.3" rx="4"/><text x="1865.9" y="859.2">，我乡的妇幼卫生工作在各级领导的支持下，<tspan x="1865.9" dy="12.67">在党委、政府领导下，院长的重视，各部门的</tspan><tspan x="1865.9" dy="12.67">配合，以贯彻《母婴保健法》为重点，根据我</tspan><tspan x="1865.9" dy="12.67">乡的实际情况，开展妇幼卫生工作宣传和卫生</tspan><tspan x="1865.9" dy="12.67">保健工作，提高了妇女、儿童的健康素质，我</tspan><tspan x="1865.9" dy="12.67">院作了以下具体工作:</tspan></text></g>
<g id="n1-1"><rect x="2086.6" y="747" width="206" height="85.3" rx="4"/><text x="2091.1" y="762.2">1、由专职妇幼人员和院长定期对村妇幼人员<tspan x="2091.1" dy="12.67">进行业务培训学习，并督促和检查工作，一旦</tspan><tspan x="2091.1" dy="12.67">发现问题当时写出督导意见，并采取各种形式</tspan><tspan x="2091.1" dy="12.67">加大对《母婴保健法》及相关法律、法规的宣</tspan><tspan x="2091.1" dy="12.67">传力度，依法保障了妇女、儿童的健康保障权</tspan><tspan x="2091.1" dy="12.67">利。</tspan></text></g>
<g id="n1-2"><rect x="2086.6" y="853" width="206" height="72.7" rx="4"/><text x="2091.1" y="868.2">2、妇幼工作按时、按期、按质量完成了上级<tspan x="2091.1" dy="12.67">各种统计报表，做到了软硬件齐全，坚持每月</tspan><tspan x="2091.1" dy="12.67">一次专栏，通过发放和张贴宣传资料等多种方</tspan><tspan x="2091.1" dy="12.67">式大力宣传妇女、儿童健康知识，定期对村级</tspan><tspan x="2091.1" dy="12.67">妇幼人员进行考核。</tspan></text></g>
<g id="n1-3"><rect x="2086.6" y="961" width="206" height="47.3" rx="4"/><text x="2091.1" y="976.2">3、实行了出生医学证明发放和管理。20全年<tspan x="2091.1" dy="12.67">发放出生医学证明163本，发放医学证明提高</tspan><tspan x="2091.1" dy="12.67">了计划生育质量，同时开展了母子保健工作。</tspan></text></g>
<g id="n1-3a"><rect x="2313" y="948" width="206" height="72.7" rx="4"/><text x="2317.5" y="963.2">按照上级要求，继续巩固爱婴医院，且通过复<tspan x="2317.5" dy="12.67">查，并在降低"两率"中接受县保健院对我镇的</tspan><tspan x="2317.5" dy="12.67">复查，由于我镇地处山区，经济较为落后，在</tspan><tspan x="2317.5" dy="12.67">工作中还存在着一些问题，争取在来年的工作</tspan><tspan x="2317.5" dy="12.67">中取得更好的成绩。</tspan></text></g>
</g>

<g class="c3">
<g id="n3d"><rect x="1861.4" y="1043" width="206" height="148.7" rx="4"/><text x="1865.9" y="1058.2">今年，我院妇幼工作在当地政府和上级主管部<tspan x="1865.9" dy="12.67">门的正确领导下，在院领导的带领下，我们以</tspan><tspan x="1865.9" dy="12.67">"三个代表"和_报告为指南，全面落实科学发</tspan><tspan x="1865.9" dy="12.67">展观，以为民办实事为宗旨，紧紧依托《母婴</tspan><tspan x="1865.9" dy="12.67">保健法》，坚持"以保健为中心，以保障生殖</tspan><tspan x="1865.9" dy="12.67">健康为目的，面向基层，面向群体"的妇幼卫</tspan><tspan x="1865.9" dy="12.67">生工作方针，狠抓住院分娩率和群众自我保健</tspan><tspan x="1865.9" dy="12.67">意识的提高，努力降低孕产妇、婴儿和5岁以</tspan><tspan x="1865.9" dy="12.67">下儿童死亡率，消除新生儿破伤风发生，各项</tspan><tspan x="1865.9" dy="12.67">工作取得了阶段性进展现将全年工作情况总结</tspan><tspan x="1865.9" dy="12.67">如下。</tspan></text></g>
<g id="n3-1"><rect x="1861.4" y="1250" width="108" height="22" rx="4"/><text x="1865.9" y="1265.2">一、取得的主要成绩：</text></g>
<g id="n3-1a"><rect x="1988" y="1212.5" width="206" height="98" rx="4"/><text x="1992.5" y="1227.7">住院分娩率为，孕产妇死亡发生率0;新生儿破<tspan x="1992.5" dy="12.67">伤风发生率为0;孕产妇产前检查率91%，高危</tspan><tspan x="1992.5" dy="12.67">孕产妇检出率20%、高危孕产妇住院分娩率1</tspan><tspan x="1992.5" dy="12.67">00%;7岁以下儿童保健管理人数947人，保健</tspan><tspan x="1992.5" dy="12.67">覆盖率;7个村(社区)卫生室都有比较规范的妇</tspan><tspan x="1992.5" dy="12.67">幼服务区和妇幼工作健康教育宣传栏，出生医</tspan><tspan x="1992.5" dy="12.67">学证明管理规范。</tspan></text></g>
<g id="n3-2"><rect x="1861.4" y="1853" width="78" height="22" rx="4"/><text x="1865.9" y="1868.2">二、主要做法：</text></g>
<g id="n3-2-1"><rect x="1958" y="1436" width="78" height="22" rx="4"/><text x="1962.5" y="1451.2">(一)在工作中：</text></g>
<g id="n3-2-1a"><rect x="2052" y="1332" width="206" height="123.3" rx="4"/><text x="2056.5" y="1347.2">1、我们以实施七大(孕免、出生缺陷、降消、<tspan x="2056.5" dy="12.67">宫颈癌普查、孕产妇免费产前检查、0-36个</tspan><tspan x="2056.5" dy="12.67">月儿童健康体检、预防乙肝、_、艾滋病)项目</tspan><tspan x="2056.5" dy="12.67">为契机，把维护妇女、儿童健康权益作为我们</tspan><tspan x="2056.5" dy="12.67">核心工作来抓，全年为完成7村的督查与指导</tspan><tspan x="2056.5" dy="12.67">，掌握了全镇妇幼卫生工作状况，及时为村卫</tspan><tspan x="2056.5" dy="12.67">生室解决了工作中存在的问题与困难，提高了</tspan><tspan x="2056.5" dy="12.67">母婴保健技术服务能力和质量，降低了孕产妇</tspan><tspan x="2056.5" dy="12.67">和婴儿死亡率，赢得了社会的信赖。</tspan></text></g>
<g id="n3-2-1b"><rect x="2052" y="1476" width="206" height="47.3" rx="4"/><text x="2056.5" y="1491.2">2、充分发挥村级妇幼保健队伍，做好资料建<tspan x="2056.5" dy="12.67">档工作。确保镇村级妇幼信息资料的真实性、</tspan><tspan x="2056.5" dy="12.67">准确性和完整性。</tspan></text></g>
<g id="n3-2-2"><rect x="1958" y="1545" width="206" height="110.7" rx="4"/><text x="1962.5" y="1560.2">(二)以《母婴保健法》为依托，规范母婴保健<tspan x="1962.5" dy="12.67">服务：我院全面启动农村35至59岁妇女宫颈</tspan><tspan x="1962.5" dy="12.67">癌普查工作，到目前为止已普查7个村普查人</tspan><tspan x="1962.5" dy="12.67">数1021人，，患有1人。患各种妇科疾病64</tspan><tspan x="1962.5" dy="12.67">人，占检查人数的10%。这次宫颈癌普查得</tspan><tspan x="1962.5" dy="12.67">到了广大群众的称赞。通过这种近距离地和老</tspan><tspan x="1962.5" dy="12.67">百姓接触，也让我们医务人员进一步感受到了</tspan><tspan x="1962.5" dy="12.67">作为妇幼保健人员肩上的责任和重担。</tspan></text></g>
<g id="n3-2-3"><rect x="1958" y="1677" width="206" height="174" rx="4"/><text x="1962.5" y="1692.2">(三)规范孕产妇系统管理工作，提高保健服务<tspan x="1962.5" dy="12.67">质量;建立孕产妇保健卡(手册)，镇、村级妇幼</tspan><tspan x="1962.5" dy="12.67">保健人员对辖区内的孕产妇进行摸底，按孕早</tspan><tspan x="1962.5" dy="12.67">、中、晚期、产褥期所规定的检查项目进行系</tspan><tspan x="1962.5" dy="12.67">统检查、监护和保健指导，及时发现高危情况</tspan><tspan x="1962.5" dy="12.67">，以确保母亲安全。同时，严格按照高危妊娠</tspan><tspan x="1962.5" dy="12.67">评分标准进行筛查与管理。规范的管理模式使</tspan><tspan x="1962.5" dy="12.67">今年无孕产妇死亡，有效保障了孕产妇的安全</tspan><tspan x="1962.5" dy="12.67">。全年总产妇数130人，活产132人，产前检</tspan><tspan x="1962.5" dy="12.67">查122人，率93%;产后访视122人，;住院分</tspan><tspan x="1962.5" dy="12.67">娩546人，率为;高危产妇3人，检出率为20%;</tspan><tspan x="1962.5" dy="12.67">高危住院分娩为3人，率为100%;孕产妇死亡</tspan><tspan x="1962.5" dy="12.67">0人，有效地控制了孕产妇死亡率。</tspan></text></g>
<g id="n3-2-4"><rect x="1958" y="1873.7" width="206" height="98" rx="4"/><text x="1962.5" y="1888.9">(四)规范儿童系统管理，提高儿童保健服务质<tspan x="1962.5" dy="12.67">量;儿童保健严格按照0-6岁儿童健康管理服务</tspan><tspan x="1962.5" dy="12.67">要求建卡、建册并进行系统健康检查,全镇共</tspan><tspan x="1962.5" dy="12.67">有7岁以下儿童数1033人，保健管理947人，</tspan><tspan x="1962.5" dy="12.67">保健管理率，3岁以下儿童系统管理407人，</tspan><tspan x="1962.5" dy="12.67">对5岁以下儿童进行了营养评价，实查人数71</tspan><tspan x="1962.5" dy="12.67">7人。</tspan></text></g>
<g id="n3-2-5"><rect x="1958" y="2072" width="150" height="22" rx="4"/><text x="1962.5" y="2087.2">(五)加强妇幼项目工作的管理：</text></g>
<g id="n3-2-5a"><rect x="2121" y="1993" width="206" height="85.3" rx="4"/><text x="2125.5" y="2008.2">1、在农村孕产妇免费住院分娩项目组织实施<tspan x="2125.5" dy="12.67">中做到：管理规范、组织健全、指导监督有力</tspan><tspan x="2125.5" dy="12.67">、运作规范、责任到人、宣传覆盖面广，做到</tspan><tspan x="2125.5" dy="12.67">家喻户晓。同时积极做贫困救助工实施范围，</tspan><tspan x="2125.5" dy="12.67">不断扩大救助面。使住院分娩率大幅度地提高</tspan><tspan x="2125.5" dy="12.67">，有效地减少了可避免孕产妇的死亡。</tspan></text></g>
<g id="n3-2-5b"><rect x="2121" y="2099" width="206" height="60" rx="4"/><text x="2125.5" y="2114.2">2、出生缺陷项目重点加大了宣传力度，对村<tspan x="2125.5" dy="12.67">级妇幼员进行培训，动员全民共同预防出生缺</tspan><tspan x="2125.5" dy="12.67">陷的发生。全年共口服叶酸200余瓶。干预率</tspan><tspan x="2125.5" dy="12.67">。</tspan></text></g>
<g id="n3-2-6"><rect x="1958" y="2180.5" width="206" height="199.4" rx="4"/><text x="1962.5" y="2195.7">(六)加大健康教育工作力度，提高群众自我保<tspan x="1962.5" dy="12.67">健意识：注重妇幼保健工作的宣传力度，在宣</tspan><tspan x="1962.5" dy="12.67">传过程中把妇幼保健知识和《母婴保健法》有</tspan><tspan x="1962.5" dy="12.67">机的结合在一起，通过以群众喜闻乐见的方式</tspan><tspan x="1962.5" dy="12.67">行使宣传真正普及到广大群众中去，使他们知</tspan><tspan x="1962.5" dy="12.67">法、懂法、守法，从而提高自我保健意识，自</tspan><tspan x="1962.5" dy="12.67">觉参与保健。另一方面以村卫生室妇幼服务区</tspan><tspan x="1962.5" dy="12.67">为阵地，广泛开展孕产妇保健、妇女生殖健康</tspan><tspan x="1962.5" dy="12.67">、出生缺陷的干预、婴儿喂养等内容的咨询宣</tspan><tspan x="1962.5" dy="12.67">教工作。印制《出生缺陷项目》、《孕免》、</tspan><tspan x="1962.5" dy="12.67">《孕期保健知识》等宣传材料500余份、悬挂</tspan><tspan x="1962.5" dy="12.67">横幅、刷写宣传标语20余条，办宣传刊12期</tspan><tspan x="1962.5" dy="12.67">。通过有效的健教活动，使健康教育覆盖面达</tspan><tspan x="1962.5" dy="12.67">到了85%以上，对整个妇幼卫生工作实施起</tspan><tspan x="1962.5" dy="12.67">到了巨大的推动作用。</tspan></text></g>
<g id="n3-3"><rect x="1861.4" y="2427" width="108" height="22" rx="4"/><text x="1865.9" y="2442.2">三、存在的主要问题：</text></g>
<g id="n3-3a"><rect x="1988" y="2401" width="206" height="72.7" rx="4"/><text x="1992.5" y="2416.2">1、虽然我院规范化妇幼门诊建设完成，产科<tspan x="1992.5" dy="12.67">硬件建设基本达标，但尚未经过评审验收，未</tspan><tspan x="1992.5" dy="12.67">能启动产科相关业务，使妇幼保健与临床业务</tspan><tspan x="1992.5" dy="12.67">不能紧密相结合，从而不能满足广大群众的需</tspan><tspan x="1992.5" dy="12.67">求。</tspan></text></g>
</g>

<g class="c5">
<g id="n5-0"><rect x="1862" y="2495.5" width="88" height="22" rx="4"/><text x="1866.5" y="2510.7">妇幼卫生工作计划</text></g>
<g id="n5d"><rect x="1862" y="2769" width="206" height="98" rx="4"/><text x="1866.5" y="2784.2">我县妇幼卫生工作将按照省市妇幼卫生工作要<tspan x="1866.5" dy="12.67">点的总体部署和要求，切实履行妇幼卫生的公</tspan><tspan x="1866.5" dy="12.67">共职能，狠抓基层中心工作，保障母婴健康，</tspan><tspan x="1866.5" dy="12.67">降低孕产妇和婴儿的死亡率，控制和减少出生</tspan><tspan x="1866.5" dy="12.67">缺陷，全面提高出生人口素质。根据上级要求</tspan><tspan x="1866.5" dy="12.67">和市妇幼保健院妇幼工作计划，结合本县工作</tspan><tspan x="1866.5" dy="12.67">实际，特制定如下计划：</tspan></text></g>
<g id="n5-1"><rect x="2087" y="2540" width="206" height="60" rx="4"/><text x="2091.5" y="2555.2">1.继续实施"提高妇女儿童健康水平"民生工程<tspan x="2091.5" dy="12.67">。一是婚前医学检查率达80%，建立婚前保</tspan><tspan x="2091.5" dy="12.67">健和孕期保健工作长效机制；二是加强妇幼卫</tspan><tspan x="2091.5" dy="12.67">生工作培训，不断提升服务能力。</tspan></text></g>
<g id="n5-2"><rect x="2087" y="2621" width="206" height="199.4" rx="4"/><text x="2091.5" y="2636.2">2.认真实施基本公共卫生妇幼保健和重大公共<tspan x="2091.5" dy="12.67">卫生服务项目，促进妇幼卫生服务均等化。一</tspan><tspan x="2091.5" dy="12.67">是积极落实孕产妇保健门诊和儿童保健门诊标</tspan><tspan x="2091.5" dy="12.67">准化建设。按省市要求将逐步建立并规范孕产</tspan><tspan x="2091.5" dy="12.67">保健门诊，逐步要求各乡镇设立儿童保健门诊</tspan><tspan x="2091.5" dy="12.67">，按要求在30%的`乡镇设立儿童保健门诊，</tspan><tspan x="2091.5" dy="12.67">开展规范的儿童健康检查服务。二是完善孕产</tspan><tspan x="2091.5" dy="12.67">保健和儿童保健服务规范，努力提高孕产妇保</tspan><tspan x="2091.5" dy="12.67">健和儿童保健系统管理率；()三是加强和完善</tspan><tspan x="2091.5" dy="12.67">孕产妇绿色通道建设，提高孕产妇急救能力和</tspan><tspan x="2091.5" dy="12.67">服务质量，力争住院分娩率达98%进一步降</tspan><tspan x="2091.5" dy="12.67">低孕产妇死亡率；四是加大社会宣传力度，提</tspan><tspan x="2091.5" dy="12.67">倡自然分娩；推广适宜技术；严格剖宫产指征</tspan><tspan x="2091.5" dy="12.67">管理，加强督导，定期公示，逐步降低剖宫产</tspan><tspan x="2091.5" dy="12.67">率。</tspan></text></g>
<g id="n5-3"><rect x="2087" y="2842.5" width="206" height="72.7" rx="4"/><text x="2091.5" y="2857.7">3.按照上级工作目标要求将爱婴医院创建和爱<tspan x="2091.5" dy="12.67">婴医院复评管理纳入妇幼日常工作进行管理，</tspan><tspan x="2091.5" dy="12.67">严格执行国家和省级有关爱婴医院管理规定，</tspan><tspan x="2091.5" dy="12.67">巩固爱婴医院成果，建立健全组织机构，定期</tspan><tspan x="2091.5" dy="12.67">对爱婴医院（卫生院）进行全面的复核。</tspan></text></g>
<g id="n5-4"><rect x="2087" y="2937" width="206" height="72.7" rx="4"/><text x="2091.5" y="2952.2">4.今年按照《**省实施细则》，将对托幼机构<tspan x="2091.5" dy="12.67">实施卫生保健管理，按要求定期对托幼机构进</tspan><tspan x="2091.5" dy="12.67">行卫生保健专业知识培训，每年开展一次托幼</tspan><tspan x="2091.5" dy="12.67">卫生保健管理工作督查评估，并根据规定评选</tspan><tspan x="2091.5" dy="12.67">通道县县幼儿园为示范性卫生保健托幼机构。</tspan></text></g>
<g id="n5-5"><rect x="2087" y="3031" width="206" height="72.7" rx="4"/><text x="2091.5" y="3046.2">5.做好新生儿死亡评审工作，县妇幼保健院协<tspan x="2091.5" dy="12.67">助县卫生局组织县级评审专家对辖区内医疗保</tspan><tspan x="2091.5" dy="12.67">健机构内新生儿死亡病例的评审，每季度一次</tspan><tspan x="2091.5" dy="12.67">，各医疗保健机构要按时上交儿童死亡报告卡</tspan><tspan x="2091.5" dy="12.67">、新生儿死亡调查表、相关病例复印件。</tspan></text></g>
</g>
</svg>
